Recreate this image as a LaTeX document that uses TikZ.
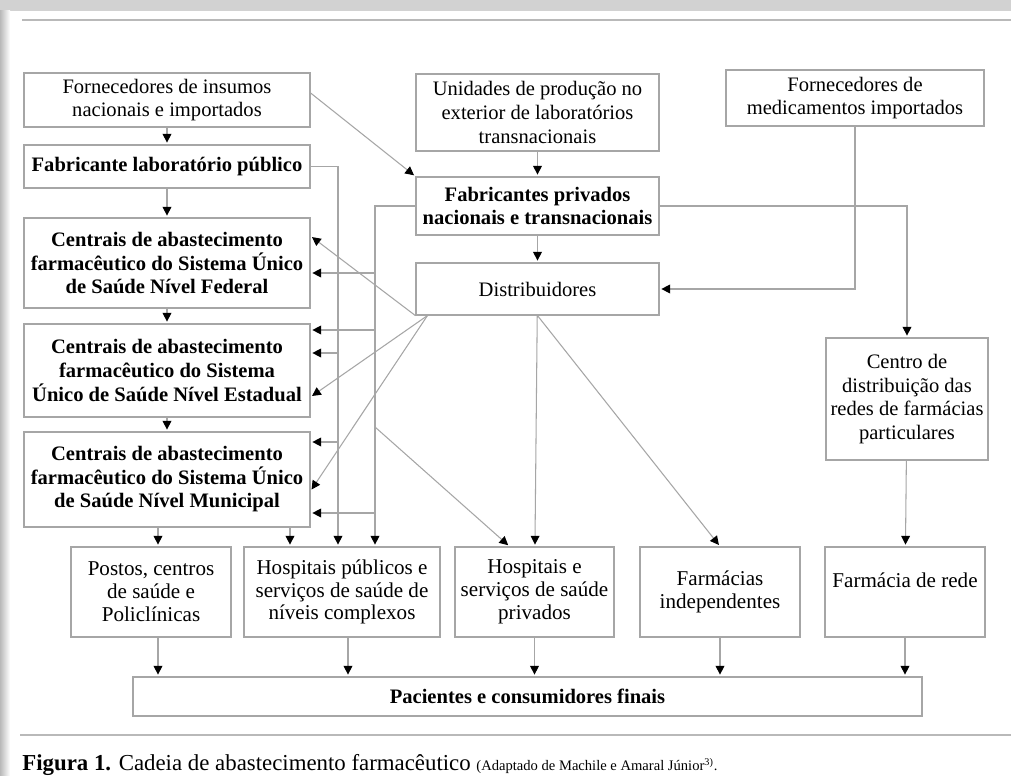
\documentclass[tikz,border=0pt]{standalone}
\usepackage{fontspec}
\setmainfont{Liberation Serif}
\usetikzlibrary{arrows.meta,positioning}

\begin{document}
\begin{tikzpicture}[x=0.02cm,y=-0.02cm,
    caixa/.style={draw=gray!70, line width=0.7pt, rectangle, align=center, inner sep=0pt,
                  font=\fontsize{11.7}{13.4}\selectfont},
    baixa/.style={caixa, minimum height=1.8cm, font=\fontsize{12}{13}\selectfont},
    seta/.style={draw=gray!70, line width=0.6pt, -{Triangle[length=5pt,width=5pt,color=black]}, shorten >=1pt},
    linha/.style={draw=gray!70, line width=0.6pt}]
\useasboundingbox (0,0) rectangle (1011,776);
% fundo e sombra
\fill[white] (0,0) rectangle (1011,776);
\fill[gray!35] (0,0) rectangle (1011,11);
\shade[left color=gray!55, right color=white] (0,11) rectangle (10,776);
\draw[gray!55, line width=1.3pt] (22,20) -- (1011,20);
\draw[gray!55, line width=1pt] (20,735) -- (1011,735);

% coluna esquerda
\node[caixa, minimum width=5.72cm, minimum height=1.08cm] (forn) at (167,100) {Fornecedores de insumos\\nacionais e importados};
\node[caixa, minimum width=5.72cm, minimum height=0.86cm] (fab) at (167,166.5) {\bfseries Fabricante laboratório público};
\node[caixa, minimum width=5.72cm, minimum height=1.8cm] (cfed) at (167,263) {\bfseries Centrais de abastecimento\\\bfseries farmacêutico do Sistema Único\\\bfseries de Saúde Nível Federal};
\node[caixa, minimum width=5.72cm, minimum height=1.86cm] (cest) at (167,370.5) {\bfseries Centrais de abastecimento\\\bfseries farmacêutico do Sistema\\\bfseries Único de Saúde Nível Estadual};
\node[caixa, minimum width=5.72cm, minimum height=1.9cm] (cmun) at (167,479.5) {\bfseries Centrais de abastecimento\\\bfseries farmacêutico do Sistema Único\\\bfseries de Saúde Nível Municipal};

% coluna do meio
\node[caixa, minimum width=4.86cm, minimum height=1.54cm] (unid) at (537.5,112.5) {Unidades de produção no\\exterior de laboratórios\\transnacionais};
\node[caixa, minimum width=4.86cm, minimum height=1.16cm] (priv) at (537.5,206) {\bfseries Fabricantes privados\\\bfseries nacionais e transnacionais};
\node[caixa, minimum width=4.86cm, minimum height=1.04cm] (dist) at (537.5,289) {Distribuidores};

% coluna direita
\node[caixa, minimum width=5.16cm, minimum height=1.12cm] (fmed) at (855,98) {Fornecedores de\\medicamentos importados};
\node[caixa, minimum width=3.24cm, minimum height=2.44cm] (cdist) at (907,399) {Centro de\\distribuição das\\redes de farmácias\\particulares};

% linha de baixo
\node[baixa, minimum width=3.2cm] (postos) at (151,592) {Postos, centros\\de saúde e\\Policlínicas};
\node[baixa, minimum width=3.92cm] (hpub) at (342,592) {Hospitais públicos e\\serviços de saúde de\\níveis complexos};
\node[baixa, minimum width=3.18cm] (hpriv) at (534.5,592) {Hospitais e\\serviços de saúde\\privados};
\node[baixa, minimum width=3.2cm] (findep) at (720,592) {Farmácias\\independentes};
\node[baixa, minimum width=3.2cm] (frede) at (905,592) {Farmácia de rede\\~};
\node[caixa, minimum width=15.78cm, minimum height=0.78cm] (pac) at (527.5,696.5) {\bfseries Pacientes e consumidores finais};

% legenda
\node[anchor=west, inner sep=0pt, font=\fontsize{13}{15}\selectfont] (leg) at (22,765)
  {\textbf{Figura 1.} Cadeia de abastecimento farmacêutico {\fontsize{8.3}{10}\selectfont(Adaptado de Machile e Amaral Júnior\textsuperscript{3)}.}};

% linhas verticais
\coordinate (la) at (338,0);
\coordinate (lb) at (375,0);
\coordinate (a1) at (338,353);
\coordinate (a2) at (338,442);
\coordinate (b1) at (375,273);
\coordinate (b2) at (375,330);
\coordinate (b3) at (375,513);
\coordinate (b4) at (375,427);

% setas
\draw[seta] (forn) -- (fab);
\draw[seta] (fab) -- (cfed);
\draw[seta] (cfed) -- (cest);
\draw[seta] (cest) -- (cmun);
\draw[seta] ([xshift=0.14cm]cmun.south -| postos.north) -- ([xshift=0.14cm]postos.north);
\draw[seta] ([xshift=2.46cm]cmun.south) -- ([xshift=2.46cm]cmun.south |- hpub.north);
\draw[seta] ([yshift=0.14cm]forn.east) -- (priv.north west);
\draw[seta] (unid) -- (priv);
\draw[seta] (priv) -- (dist);
\draw[seta] (fab.east) -| (la |- hpub.north);
\draw[seta] (priv.west) -| (lb |- hpub.north);
\draw[seta] (a1) -- (a1 -| cest.east);
\draw[seta] (a2) -- (a2 -| cmun.east);
\draw[seta] (b1) -- (b1 -| cfed.east);
\draw[seta] (b2) -- (b2 -| cest.east);
\draw[seta] (b3) -- (b3 -| cmun.east);
\draw[seta] (b4) -- ([xshift=-0.5cm]hpriv.north);
\draw[seta] (dist.south west) -- ([yshift=0.54cm]cfed.east);
\draw[seta] ([xshift=0.24cm]dist.south west) -- ([yshift=-0.53cm]cest.east);
\draw[seta] ([xshift=0.24cm]dist.south west) -- ([yshift=-0.23cm]cmun.east);
\draw[seta] (dist) -- (hpriv);
\draw[seta] (dist.south) -- (findep.north);
\draw[seta] (fmed.south) |- (dist.east);
\draw[seta] (priv.east) -| (cdist.north);
\draw[seta] (cdist) -- (frede);
\draw[seta] ([xshift=0.14cm]postos.south) -- ([xshift=0.14cm]postos.south |- pac.north);
\draw[seta] ([xshift=0.12cm]hpub.south) -- ([xshift=0.12cm]hpub.south |- pac.north);
\draw[seta] (hpriv) -- (hpriv |- pac.north);
\draw[seta] (findep) -- (findep |- pac.north);
\draw[seta] (frede) -- (frede |- pac.north);
\end{tikzpicture}
\end{document}
